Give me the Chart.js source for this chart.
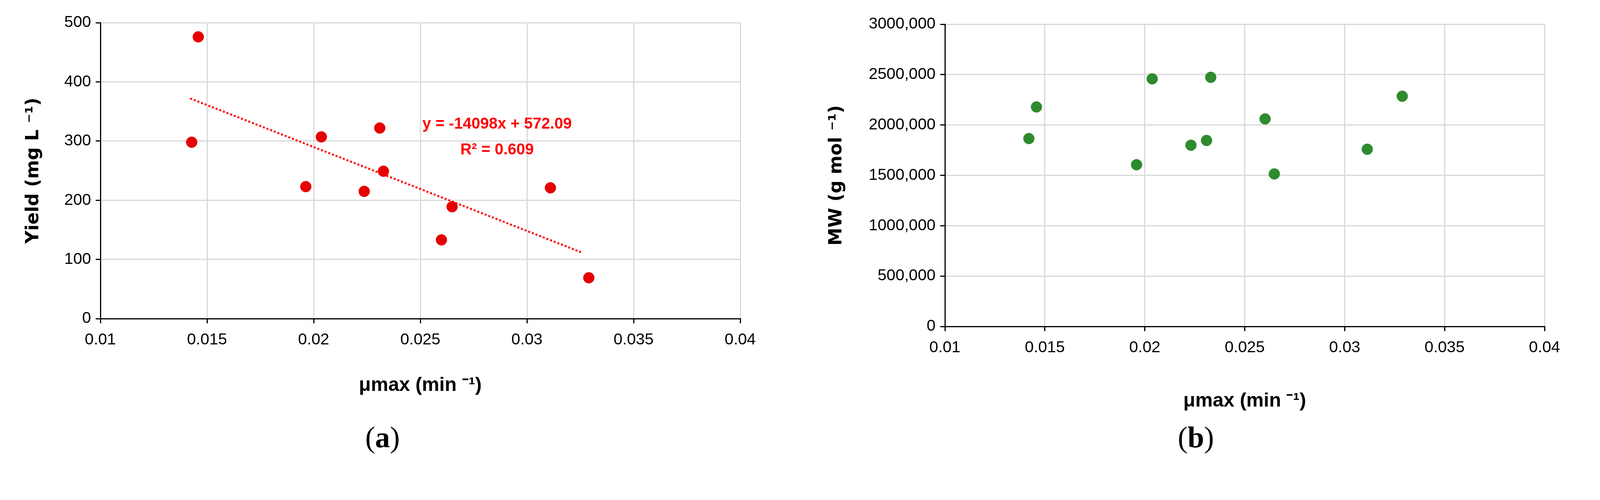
<!DOCTYPE html>
<html>
<head>
<meta charset="utf-8">
<script src="https://cdn.jsdelivr.net/npm/chart.js@4"></script>
<style>
  body { margin: 0; background: #fff; width: 4113px; height: 1279px; position: relative; overflow: hidden; }
  .box { position: absolute; top: 0; }
  .cap { position: absolute; top: 1075px; font: 76px "Liberation Serif", serif; }
</style>
</head>
<body>
<div class="box" style="left:0;width:2056px;height:1020px"><canvas id="yieldChart"></canvas></div>
<div class="box" style="left:2056px;width:2057px;height:1060px"><canvas id="mwChart"></canvas></div>
<div class="cap" style="left:935px">(<b>a</b>)</div>
<div class="cap" style="left:3015px">(<b>b</b>)</div>
<script>
// data
const yieldMu = [0.01428, 0.01459, 0.01963, 0.02036, 0.02237, 0.0231, 0.02327, 0.02599, 0.02649, 0.0311, 0.0329];
const yieldVals = [298, 476, 223, 307, 215, 322, 249, 133, 189, 221, 69];
const trendMu = [0.01421, 0.03262];
const trendVals = [372, 111];

const mwMu = [0.0142, 0.01458, 0.01959, 0.02037, 0.02231, 0.02309, 0.0233, 0.02602, 0.02648, 0.03113, 0.03288];
const mwVals = [1865000, 2179000, 1605000, 2458000, 1799000, 1846000, 2473000, 2060000, 1514000, 1759000, 2285000];

const xTicks = [0.01, 0.015, 0.02, 0.025, 0.03, 0.035, 0.04];

const tickFont = { family: '"Liberation Sans Narrow", "Liberation Sans", sans-serif', size: 41 };
const gridColor = '#d9d9d9';

const xScale = (height) => ({
    type: 'linear', min: 0.01, max: 0.04,
    afterBuildTicks: s => { s.ticks = xTicks.map(v => ({ value: v })); },
    afterFit: s => { s.height = height; },
    ticks: { color: '#000', font: tickFont, padding: 18, maxRotation: 0, callback: v => String(+v.toFixed(3)) },
    grid: { color: gridColor, lineWidth: 3, tickLength: 12, tickColor: '#000' },
    border: { color: '#000', width: 3 },
    title: {
        display: true, text: 'μmax (min ⁻¹)', color: '#000',
        font: { family: '"Liberation Sans Narrow", "Liberation Sans", sans-serif', size: 50, weight: 'bold' },
        padding: { top: 40 }
    }
});

const yScale = (width, max, step, title, fmt) => ({
    type: 'linear', min: 0, max: max,
    afterFit: s => { s.width = width; },
    ticks: { stepSize: step, color: '#000', font: tickFont, padding: 12, callback: fmt },
    grid: { color: gridColor, lineWidth: 3, tickLength: 12, tickColor: '#000' },
    border: { color: '#000', width: 3 },
    title: {
        display: true, text: title, color: '#000',
        font: { family: '"DejaVu Sans", sans-serif', size: 46, weight: 'bold' },
        padding: { top: 58, bottom: 0 }
    }
});

// regression label drawn in data coordinates
const eqLabel = {
    id: 'eqLabel',
    afterDatasetsDraw(chart) {
        const { ctx, scales: { x, y } } = chart;
        ctx.save();
        ctx.fillStyle = '#ff0000';
        ctx.textAlign = 'center';
        ctx.textBaseline = 'middle';
        ctx.font = 'bold 40px "Liberation Sans Narrow", "Liberation Sans", sans-serif';
        ctx.fillText('y = -14098x + 572.09', x.getPixelForValue(0.0286), y.getPixelForValue(328));
        ctx.fillText('R² = 0.609', x.getPixelForValue(0.0286), y.getPixelForValue(285));
        ctx.restore();
    }
};

new Chart(document.getElementById('yieldChart'), {
    type: 'scatter',
    data: {
        datasets: [{
            data: yieldMu.map((m, i) => ({ x: m, y: yieldVals[i] })),
            backgroundColor: '#e60000', borderColor: '#e60000', pointRadius: 14
        }, {
            type: 'line',
            data: trendMu.map((m, i) => ({ x: m, y: trendVals[i] })),
            borderColor: '#ff0000', borderWidth: 5, borderDash: [5, 5], pointRadius: 0, fill: false
        }]
    },
    options: {
        responsive: true, maintainAspectRatio: false, animation: false,
        layout: { padding: { top: 58, right: 161 } },
        plugins: { legend: { display: false }, tooltip: { enabled: false } },
        scales: {
            x: xScale(205),
            y: yScale(257, 500, 100, 'Yield (mg L ⁻¹)', v => v)
        }
    },
    plugins: [eqLabel]
});

new Chart(document.getElementById('mwChart'), {
    type: 'scatter',
    data: {
        datasets: [{
            data: mwMu.map((m, i) => ({ x: m, y: mwVals[i] })),
            backgroundColor: '#2e8b2e', borderColor: '#2e8b2e', pointRadius: 14
        }]
    },
    options: {
        responsive: true, maintainAspectRatio: false, animation: false,
        layout: { padding: { top: 62, right: 159 } },
        plugins: { legend: { display: false }, tooltip: { enabled: false } },
        scales: {
            x: xScale(225),
            y: yScale(363, 3000000, 500000, 'MW (g mol ⁻¹)', v => v === 0 ? '0' : (v / 1000) + ',000')
        }
    }
});
</script>
</body>
</html>
